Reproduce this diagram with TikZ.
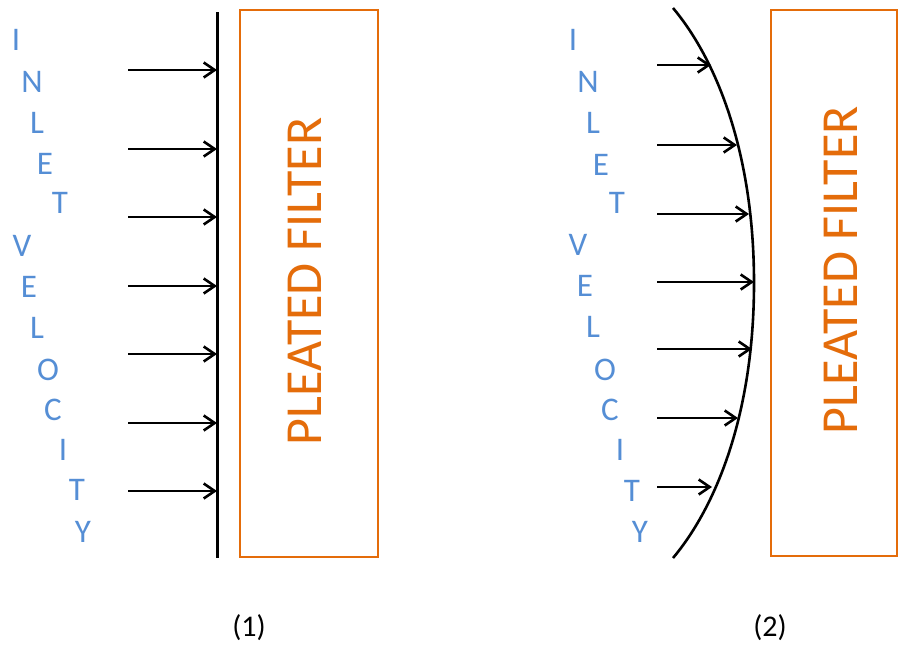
\documentclass[tikz,border=0pt]{standalone}
\usepackage{fontspec}
\setmainfont{Carlito}
\usetikzlibrary{arrows.meta}
\definecolor{filterorange}{RGB}{228,108,10}
\definecolor{letterblue}{RGB}{85,142,213}
\tikzset{
  letter/.style={text=letterblue, font=\fontsize{33}{33}\selectfont, inner sep=0pt},
  filterbox/.style={draw=filterorange, line width=2.8pt},
  filtertext/.style={text=filterorange, font=\fontsize{52}{52}\selectfont, rotate=90, inner sep=0pt},
  flow/.style={line width=2.6pt, -{Straight Barb[length=11pt,width=15pt,line width=2.6pt]}},
  wall/.style={line width=3pt},
  caption/.style={font=\fontsize{30}{30}\selectfont, inner sep=0pt}
}
\begin{document}
\begin{tikzpicture}[x=1pt,y=-1pt]
\useasboundingbox (0,0) rectangle (899,648);
% ---------- panel 1 ----------
\node[letter] (a1) at (16,40) {I};
\node[letter] (a2) at (32,82) {N};
\node[letter] (a3) at (37,123) {L};
\node[letter] (a4) at (45,164) {E};
\node[letter] (a5) at (60,203) {T};
\node[letter] (a6) at (22,246) {V};
\node[letter] (a7) at (29,287) {E};
\node[letter] (a8) at (37,328) {L};
\node[letter] (a9) at (48,370) {O};
\node[letter] (a10) at (53,410) {C};
\node[letter] (a11) at (63,450) {I};
\node[letter] (a12) at (77,490) {T};
\node[letter] (a13) at (83,532) {Y};
\coordinate (w1top) at (217,12);
\coordinate (w1bot) at (217,558);
\draw[wall] (w1top) -- (w1bot);
\node[filterbox, minimum width=138pt, minimum height=547pt, inner sep=0pt] (f1) at (309,283.5) {};
\node[filtertext] (t1) at (305,281.5) {PLEATED FILTER};
\foreach \i/\y in {1/70,2/149,3/217,4/286,5/354,6/423,7/491}{
  \coordinate (s1\i) at (128,\y);
  \coordinate (e1\i) at (217,\y);
  \draw[flow] (s1\i) -- (e1\i);
}
\node[caption] (c1) at (249,628) {(1)};
% ---------- panel 2 ----------
\node[letter] (b1) at (573,40) {I};
\node[letter] (b2) at (588,82) {N};
\node[letter] (b3) at (593,123) {L};
\node[letter] (b4) at (601,165) {E};
\node[letter] (b5) at (617,203) {T};
\node[letter] (b6) at (578,245) {V};
\node[letter] (b7) at (585,286) {E};
\node[letter] (b8) at (593,327) {L};
\node[letter] (b9) at (605,370) {O};
\node[letter] (b10) at (610,410) {C};
\node[letter] (b11) at (620,450) {I};
\node[letter] (b12) at (632,491) {T};
\node[letter] (b13) at (640,532) {Y};
\draw[line width=2.6pt] (673,8) .. controls (715,58) and (754,150) .. (754,283)
                        .. controls (754,416) and (715,508) .. (673,558);
\foreach \i/\y/\x in {1/65/711,2/145/737,3/214/749,4/282/754,5/349/752,6/418/738,7/487/712}{
  \coordinate (s2\i) at (657,\y);
  \coordinate (e2\i) at (\x,\y);
  \draw[flow] (s2\i) -- (e2\i);
}
\node[filterbox, minimum width=126pt, minimum height=546pt, inner sep=0pt] (f2) at (834,283) {};
\node[filtertext] (t2) at (841,270) {PLEATED FILTER};
\node[caption] (c2) at (770,628) {(2)};
\end{tikzpicture}
\end{document}
